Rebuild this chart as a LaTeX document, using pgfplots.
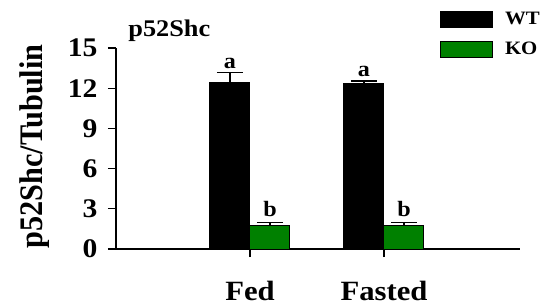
\documentclass[border=0pt]{standalone}
\usepackage{pgfplots}
\pgfplotsset{compat=1.18}
\usepackage{fontspec}
\setmainfont[FakeStretch=1.1]{Liberation Serif}
\newfontfamily\ylabfont[FakeStretch=0.92]{Liberation Serif}
\definecolor{kogreen}{RGB}{0,128,0}
\pgfplotsset{mylegend/.style={legend image code/.code={\draw[##1, line width=1bp] (0bp,-8bp) rectangle (52bp,8bp);}}}
\begin{document}
\begin{tikzpicture}
\begin{axis}[
  at={(116bp,57bp)}, anchor=south west,
  width=404bp, height=201bp, scale only axis,
  xmin=0, xmax=3.015, ymin=0, ymax=15,
  axis x line=bottom, axis y line=left,
  axis line style={-, line width=1.2bp},
  ybar=0pt, bar width=40bp,
  xtick={1,2}, xticklabels={Fed,Fasted},
  ytick={0,3,6,9,12,15},
  tick align=outside, major tick length=8bp,
  tick style={black, line width=1.2bp},
  /pgf/number format/assume math mode=true,
  yticklabel style={font=\bfseries\fontsize{27}{27}\selectfont, xshift=-7bp},
  xticklabel style={font=\bfseries\fontsize{28}{28}\selectfont, yshift=-21bp},
  ylabel={p52Shc/Tubulin},
  ylabel style={font=\ylabfont\bfseries\fontsize{33}{33}\selectfont, at={(axis description cs:-0.1807,0.51)}, anchor=base},
  title={p52Shc},
  title style={at={(axis description cs:0.022,1.025)}, anchor=base west, font=\bfseries\fontsize{24}{24}\selectfont},
  legend style={at={(axis description cs:0.802,1.184)}, anchor=north west, draw=none, fill=none, inner sep=0pt, outer sep=0pt, font=\bfseries\fontsize{19}{19}\selectfont, row sep=12.5bp, nodes={inner sep=0pt, anchor=west}, /tikz/every odd column/.append style={column sep=12bp}},
  clip=false,
]
\addplot[mylegend, fill=black, draw=black, line width=1bp,
  error bars/.cd, y dir=plus, y explicit,
  error bar style={line width=1.2bp, black},
  error mark options={rotate=90, mark size=13bp, line width=1.2bp, black}]
  coordinates {(1,12.44) +- (0,0.73) (2,12.36) +- (0,0.18)};
\addlegendentry{WT}
\addplot[mylegend, fill=kogreen, draw=black, line width=1bp,
  error bars/.cd, y dir=plus, y explicit,
  error bar style={line width=1.2bp, black},
  error mark options={rotate=90, mark size=13bp, line width=1.2bp, black}]
  coordinates {(1,1.79) +- (0,0.17) (2,1.78) +- (0,0.17)};
\addlegendentry{KO}
\node[font=\bfseries\fontsize{22}{22}\selectfont, anchor=base, xshift=-20bp] at (axis cs:1,13.5) {a};
\node[font=\bfseries\fontsize{22}{22}\selectfont, anchor=base, xshift=-20bp] at (axis cs:2,12.86) {a};
\node[font=\bfseries\fontsize{22}{22}\selectfont, anchor=base, xshift=20bp] at (axis cs:1,2.41) {b};
\node[font=\bfseries\fontsize{22}{22}\selectfont, anchor=base, xshift=20bp] at (axis cs:2,2.41) {b};
\end{axis}
\pgfresetboundingbox
\path[use as bounding box] (0,0) rectangle (545bp,306bp);
\end{tikzpicture}
\end{document}
